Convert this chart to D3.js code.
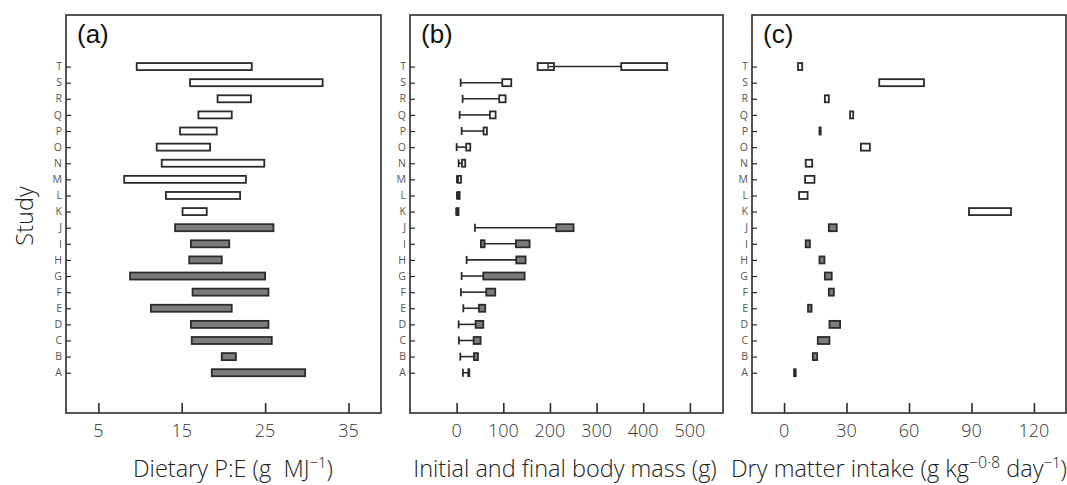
<!DOCTYPE html>
<html>
<head>
    <title>Study ranges</title>
    <style>
        body { margin: 0; background: #fff; }
        svg text { fill: #333; }
        .num { font-family: "Open Sans", "Noto Sans", sans-serif; font-weight: 300; font-size: 18px; }
        .cat { font-family: "Open Sans", "Noto Sans", sans-serif; font-size: 10.5px; fill: #555; }
        .title { font-family: "Open Sans", "Noto Sans", sans-serif; font-weight: 300; font-size: 23.5px; fill: #222; }
        .panel { font-family: "Liberation Sans", Arial, sans-serif; font-size: 26px; fill: #111; }
    </style>
</head>
<body>
<svg id="chart" width="1067" height="485"></svg>
<script src="https://d3js.org/d3.v7.min.js"></script>
<script>
// studies, bottom to top
const studies = ["A","B","C","D","E","F","G","H","I","J","K","L","M","N","O","P","Q","R","S","T"];
// studies A-J grey, K-T white
const filled = studies.map((s, i) => i < 10);

// (a) dietary P:E range
const peLo = [18.6, 19.8, 16.2, 16.1, 11.3, 16.3, 8.8, 15.9, 16.1, 14.2, 15.1, 13.1, 8.1, 12.6, 12.0, 14.8, 17.0, 19.3, 16.0, 9.6];
const peHi = [29.8, 21.5, 25.8, 25.4, 21.0, 25.4, 25.0, 19.8, 20.7, 26.0, 18.0, 22.0, 22.7, 24.9, 18.4, 19.2, 21.0, 23.3, 31.9, 23.4];

// (b) initial and final body mass
const initLo  = [13.5, 7.8, 4.9, 4.3, 14.3, 9.2, 10.7, 21.4, 52, 39.3, -1, 0.6, 0.6, 4.3, 0, 10.7, 6.4, 12.8, 8.6, 173.6];
const initHi  = [13.5, 7.8, 4.9, 4.3, 14.3, 9.2, 10.7, 21.4, 60, 39.3, -1, 0.6, 0.6, 4.3, 0, 10.7, 6.4, 12.8, 8.6, 208.6];
const finalLo = [25, 37.1, 36.4, 40.7, 47.8, 63.5, 57.1, 127.8, 127, 213.5, 1, 3, 3, 11.4, 20.6, 57.8, 71.4, 91.3, 97.8, 352.8];
const finalHi = [27, 45.6, 51.4, 57.1, 61.3, 82.8, 145.7, 147.8, 156.4, 250.7, 4, 6.4, 9.3, 18.4, 29.2, 64.9, 83.5, 104.9, 117.1, 451.3];

// (c) dry matter intake range
const dmiLo = [4.8, 13.8, 16.2, 21.8, 11.5, 21.5, 19.6, 17.0, 10.4, 21.5, 88.8, 7.2, 10.1, 10.4, 36.9, 17.0, 31.7, 19.6, 45.7, 6.7];
const dmiHi = [5.6, 15.9, 21.8, 26.9, 13.2, 23.9, 22.9, 19.4, 12.4, 25.3, 109.0, 11.3, 14.6, 13.5, 41.2, 17.6, 33.2, 21.5, 67.2, 8.7];

const ticksA = [5, 15, 25, 35];
const ticksB = [0, 100, 200, 300, 400, 500];
const ticksC = [0, 30, 60, 90, 120];

const svg = d3.select("#chart");
const plotTop = 15, plotBottom = 413;
const y = d3.scaleLinear().domain([-2.5, 22.2]).range([plotBottom, plotTop]);
const barH = 7;
const stroke = "#2b2b2b", grey = "#7c7c7c";

function panel(left, right, domain, ticks, label) {
    const x = d3.scaleLinear().domain(domain).range([left, right]);
    const g = svg.append("g");
    g.append("rect")
        .attr("x", left).attr("y", plotTop)
        .attr("width", right - left).attr("height", plotBottom - plotTop)
        .attr("fill", "none").attr("stroke", stroke).attr("stroke-width", 1.6);

    // x axis: ticks inside, labels below
    const xa = g.append("g").attr("transform", `translate(0,${plotBottom})`)
        .call(d3.axisTop(x).tickValues(ticks).tickSize(10).tickFormat(""));
    xa.select(".domain").remove();
    xa.selectAll("line").attr("stroke", stroke).attr("stroke-width", 1.6);
    g.selectAll(".xl").data(ticks).enter().append("text")
        .attr("class", "num")
        .attr("x", d => x(d)).attr("y", 437)
        .attr("text-anchor", "middle")
        .text(d => d);

    // y axis: study letters
    const ya = g.append("g").attr("transform", `translate(${left},0)`)
        .call(d3.axisRight(y).tickValues(d3.range(studies.length)).tickSize(5).tickFormat(""));
    ya.select(".domain").remove();
    ya.selectAll("line").attr("stroke", stroke).attr("stroke-width", 1.2);
    g.selectAll(".yl").data(studies).enter().append("text")
        .attr("class", "cat")
        .attr("x", left - 4).attr("y", (d, i) => y(i) + 3.7)
        .attr("text-anchor", "end")
        .text(d => d);

    g.append("text").attr("class", "panel")
        .attr("x", left + 11).attr("y", 43).text(label);
    return { g, x };
}

function bars(p, lo, hi) {
    p.g.selectAll(".bar").data(studies).enter().append("rect")
        .attr("x", (d, i) => p.x(lo[i]))
        .attr("width", (d, i) => Math.max(1, p.x(hi[i]) - p.x(lo[i])))
        .attr("y", (d, i) => y(i) - barH / 2)
        .attr("height", barH)
        .attr("fill", (d, i) => filled[i] ? grey : "#fff")
        .attr("stroke", stroke).attr("stroke-width", 1.8);
}

// (a)
const pa = panel(66, 381, [1.12, 38.9], ticksA, "(a)");
bars(pa, peLo, peHi);

// (b)
const pb = panel(410, 723, [-100, 571], ticksB, "(b)");
const mid = studies.map((d, i) => (initLo[i] + initHi[i]) / 2);
pb.g.selectAll(".link").data(studies).enter().append("line")
    .attr("x1", (d, i) => pb.x(mid[i])).attr("x2", (d, i) => pb.x(finalLo[i]))
    .attr("y1", (d, i) => y(i)).attr("y2", (d, i) => y(i))
    .attr("stroke", stroke).attr("stroke-width", 1.6);
pb.g.selectAll(".cap").data(studies).enter().append("line")
    .attr("x1", (d, i) => pb.x(mid[i])).attr("x2", (d, i) => pb.x(mid[i]))
    .attr("y1", (d, i) => y(i) - barH / 2 - 0.5).attr("y2", (d, i) => y(i) + barH / 2 + 0.5)
    .attr("stroke", stroke).attr("stroke-width", 1.8);
pb.g.selectAll(".ibox").data(studies.filter((d, i) => initHi[i] > initLo[i])).enter().append("rect")
    .attr("x", d => pb.x(initLo[studies.indexOf(d)]))
    .attr("width", d => pb.x(initHi[studies.indexOf(d)]) - pb.x(initLo[studies.indexOf(d)]))
    .attr("y", d => y(studies.indexOf(d)) - barH / 2)
    .attr("height", barH)
    .attr("fill", d => filled[studies.indexOf(d)] ? grey : "#fff")
    .attr("stroke", stroke).attr("stroke-width", 1.8);
// redraw T cap on top of its initial box
pb.g.append("line")
    .attr("x1", pb.x(196)).attr("x2", pb.x(196))
    .attr("y1", y(19) - 2.5).attr("y2", y(19) + 2.5)
    .attr("stroke", stroke).attr("stroke-width", 1.4);
pb.g.append("line")
    .attr("x1", pb.x(196)).attr("x2", pb.x(initHi[19]))
    .attr("y1", y(19)).attr("y2", y(19))
    .attr("stroke", stroke).attr("stroke-width", 1.4);
bars(pb, finalLo, finalHi);

// (c)
const pc = panel(752, 1066, [-15.4, 135.4], ticksC, "(c)");
bars(pc, dmiLo, dmiHi);

// axis titles
const t1 = svg.append("text").attr("class", "title").attr("x", 233).attr("y", 477).attr("text-anchor", "middle");
t1.append("tspan").text("Dietary P:E (g\u00a0 MJ");
t1.append("tspan").attr("dy", -9).attr("font-size", 15).text("−1");
t1.append("tspan").attr("dy", 9).text(")");

svg.append("text").attr("class", "title").attr("x", 565).attr("y", 477)
    .attr("text-anchor", "middle").text("Initial and final body mass (g)");

const t3 = svg.append("text").attr("class", "title").attr("x", 899).attr("y", 477).attr("text-anchor", "middle");
t3.append("tspan").text("Dry matter intake (g kg");
t3.append("tspan").attr("dy", -9).attr("font-size", 16).text("−0·8");
t3.append("tspan").attr("dy", 9).text(" day");
t3.append("tspan").attr("dy", -9).attr("font-size", 15).text("−1");
t3.append("tspan").attr("dy", 9).text(")");

svg.append("text").attr("class", "title")
    .attr("transform", "translate(33,216) rotate(-90)")
    .attr("text-anchor", "middle").text("Study");
</script>
</body>
</html>
